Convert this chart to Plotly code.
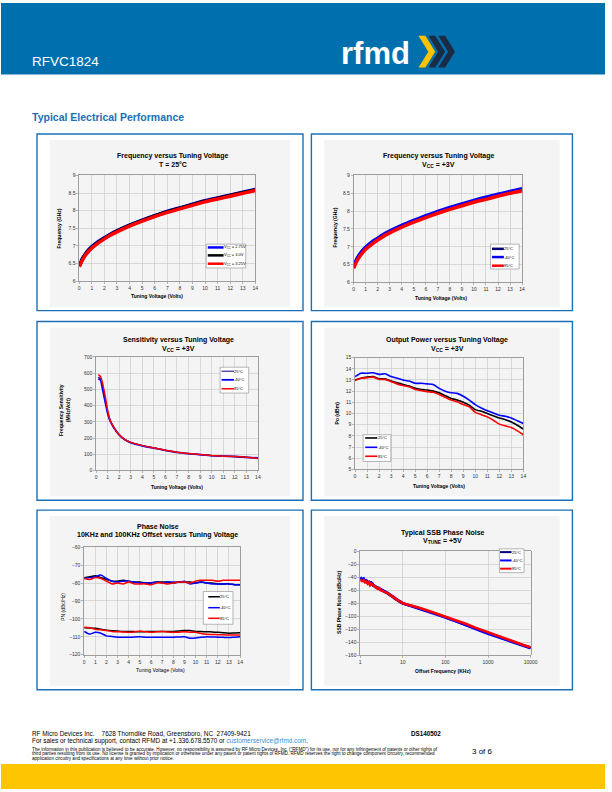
import plotly.graph_objects as go

W, H = 612, 792
FONT = "Liberation Sans"

def X(p): return p / W
def Y(p): return 1 - p / H

# ---------------- DATA ----------------
# Chart 1: Frequency vs tuning voltage, T=25C
c1_x = [0, 0.25, 0.5, 0.75, 1, 1.5, 2, 2.5, 3, 4, 5, 6, 7, 8, 9, 10, 11, 12, 13, 14]
c1_v275 = [6.45, 6.64, 6.78, 6.89, 6.98, 7.12, 7.23, 7.34, 7.43, 7.59, 7.73, 7.86, 7.98, 8.08, 8.18, 8.28, 8.36, 8.44, 8.52, 8.60]
c1_v300 = [6.43, 6.62, 6.76, 6.87, 6.96, 7.10, 7.22, 7.32, 7.42, 7.58, 7.72, 7.85, 7.97, 8.07, 8.17, 8.27, 8.35, 8.43, 8.51, 8.59]
c1_v325 = [6.41, 6.60, 6.74, 6.85, 6.94, 7.08, 7.20, 7.31, 7.40, 7.56, 7.70, 7.83, 7.95, 8.05, 8.15, 8.25, 8.33, 8.41, 8.49, 8.57]
c1_labels = ["V<sub>CC</sub> = 2.75V", "V<sub>CC</sub> = 3.0V", "V<sub>CC</sub> = 3.25V"]

# Chart 2: Frequency vs tuning voltage, Vcc=+3V
c2_x = [0, 0.25, 0.5, 0.75, 1, 1.5, 2, 2.5, 3, 4, 5, 6, 7, 8, 9, 10, 11, 12, 13, 14]
c2_t25 = [6.44, 6.63, 6.77, 6.88, 6.97, 7.11, 7.22, 7.33, 7.42, 7.58, 7.72, 7.85, 7.97, 8.08, 8.18, 8.28, 8.37, 8.45, 8.53, 8.60]
c2_tm40 = [6.46, 6.65, 6.79, 6.90, 6.99, 7.13, 7.24, 7.35, 7.44, 7.60, 7.74, 7.87, 7.99, 8.10, 8.20, 8.30, 8.39, 8.47, 8.55, 8.63]
c2_t85 = [6.40, 6.59, 6.73, 6.84, 6.93, 7.07, 7.19, 7.30, 7.39, 7.55, 7.69, 7.82, 7.94, 8.05, 8.15, 8.25, 8.33, 8.42, 8.50, 8.57]
temp_labels = ["25°C", "-40°C", "85°C"]

# Chart 3: Sensitivity
c3_x = [0.2, 0.3, 0.4, 0.5, 0.6, 0.7, 0.8, 1.0, 1.2, 1.5, 2, 2.5, 3, 4, 5, 6, 7, 8, 9, 10, 11, 12, 13, 14]
c3_t25 = [575, 570, 565, 540, 505, 470, 432, 362, 313, 270, 220, 190, 173, 153, 139, 124, 112, 104, 98, 92, 88, 86, 81, 76]
c3_tm40 = [565, 562, 558, 525, 490, 455, 420, 355, 308, 268, 219, 189, 172, 152, 138, 124, 112, 104, 98, 92, 88, 86, 81, 77]
c3_t85 = [592, 585, 578, 555, 527, 492, 455, 373, 312, 271, 220, 190, 173, 153, 139, 124, 112, 104, 98, 92, 88, 86, 81, 74]

# Chart 4: Output power
c4_x = [0, 0.5, 1, 1.5, 2, 2.5, 3, 3.5, 4, 4.5, 5, 5.5, 6, 6.5, 7, 7.5, 8, 8.5, 9, 9.5, 10, 10.5, 11, 11.5, 12, 12.5, 13, 13.5, 14]
c4_t25 = [13.0, 13.15, 13.25, 13.3, 13.1, 13.1, 12.9, 12.75, 12.6, 12.45, 12.25, 12.15, 12.1, 12.0, 11.85, 11.6, 11.35, 11.2, 11.0, 10.75, 10.35, 10.2, 10.0, 9.8, 9.6, 9.45, 9.25, 8.95, 8.6]
c4_tm40 = [13.3, 13.6, 13.6, 13.65, 13.5, 13.55, 13.3, 13.15, 13.0, 12.9, 12.7, 12.7, 12.65, 12.6, 12.25, 12.0, 11.85, 11.8, 11.55, 11.2, 10.8, 10.5, 10.25, 10.05, 9.85, 9.75, 9.6, 9.35, 9.1]
c4_t85 = [12.95, 13.15, 13.2, 13.25, 13.05, 13.05, 12.85, 12.65, 12.5, 12.4, 12.15, 12.05, 11.95, 11.9, 11.7, 11.45, 11.2, 11.05, 10.8, 10.6, 10.1, 9.9, 9.7, 9.4, 9.05, 8.9, 8.75, 8.45, 8.1]

# Chart 5: Phase noise at 10KHz and 100KHz offset
c5_x = [0, 0.5, 1, 1.5, 2, 2.5, 3, 3.5, 4, 4.5, 5, 5.5, 6, 6.5, 7, 7.5, 8, 8.5, 9, 9.5, 10, 10.5, 11, 11.5, 12, 12.5, 13, 13.5, 14]
c5_10k_t25 = [-77, -76.5, -76, -77, -78, -79, -79, -78.5, -79, -79.5, -79.5, -80, -80, -79.5, -79.5, -79.5, -80, -79.5, -79.5, -79.5, -80, -79.5, -80, -80, -80.5, -80.5, -80.5, -81, -81]
c5_10k_tm40 = [-77.5, -77, -76.5, -75.5, -77.5, -79, -79.5, -79, -79, -79.5, -80, -80, -80, -79.5, -80, -79.5, -79.5, -79.5, -79, -80.5, -80, -79.5, -80, -80.5, -80.5, -80.5, -80.5, -81, -81]
c5_10k_t85 = [-77.5, -78, -77, -77.5, -79, -80.5, -80, -80.5, -79.5, -80.5, -80.5, -80.5, -81, -80, -80, -80.5, -80, -79.5, -79.5, -80, -79, -78.5, -78.5, -78.5, -79, -78.5, -78.5, -78.5, -78.5]
c5_100k_t25 = [-105, -105.1, -105.3, -105.8, -106.3, -106.6, -106.8, -107, -107, -107.1, -107.2, -107.1, -107, -107, -107, -107, -107, -106.8, -106.5, -106.5, -107, -107.1, -107.2, -107.3, -107.5, -107.8, -108, -107.9, -107.8]
c5_100k_tm40 = [-107, -108.5, -107.5, -108, -109.5, -109.8, -110.2, -110.3, -110.3, -110.1, -110, -110.2, -110.3, -110.3, -110.3, -110.2, -110.2, -110.1, -110, -110.8, -110.7, -110.3, -110, -110.1, -110.2, -110.3, -110.4, -110.2, -110]
c5_100k_t85 = [-104.7, -105, -105.8, -106.1, -106.5, -107, -107.2, -107.3, -107.4, -107.3, -106.8, -107.2, -107.4, -107.2, -107, -107.3, -107.5, -107.4, -107.2, -107.4, -107.5, -108.2, -108.6, -108.7, -108.8, -108.9, -109, -109, -109]

# Chart 6: Typical SSB phase noise, Vtune=+5V
c6_f = [1, 1.1, 1.2, 1.3, 1.4, 1.5, 1.6, 1.7, 1.8, 1.9, 2.0, 2.2, 2.4, 2.6, 2.8, 3.0, 3.3, 3.6, 4.0, 4.4, 4.8, 5.2, 5.6, 6.0, 6.5, 7.0, 7.5, 8.0, 9.0, 10,
        12, 15, 20, 30, 50, 70, 100, 150, 200, 300, 500, 700, 1000, 1500, 2000, 3000, 5000, 7000, 10000]
c6_t25 = [-41, -44, -43, -47, -46, -49, -48, -51, -49, -50, -53, -54, -56, -57, -58, -59, -61, -62, -64, -65, -67, -68, -70, -71, -73, -74, -76, -77, -79, -80.5,
          -82, -83.5, -86, -89.5, -94.5, -97.5, -101.5, -105.5, -108.5, -112.5, -118.5, -122, -126, -130, -133, -137, -142, -145, -148.5]
c6_tm40 = [-40, -43, -42, -46, -45, -48, -47, -50, -48, -49, -52, -53, -55, -56, -57, -58, -60, -61, -63, -64, -66, -67, -69, -70, -72, -73, -75, -76, -78, -80.5,
           -82, -84, -86.5, -90, -95, -98, -102, -106, -109, -113, -119, -123, -127, -131, -134, -138, -143, -146, -149]
c6_t85 = [-44, -46, -45, -48, -47, -50, -48, -52, -50, -51, -53, -55, -56, -58, -57, -60, -61, -62, -64, -65, -66, -68, -69, -71, -72, -74, -75, -77, -78, -80,
          -81.5, -83, -85.5, -89, -94, -97, -100.5, -104.5, -107.5, -111.5, -117.5, -121, -125, -129, -132, -136, -141, -144.5, -147.5]
c6_ticks = [1, 10, 100, 1000, 10000]
c6_ticktext = ["1", "10", "100", "1000", "10000"]

# ---------------- FIGURE ----------------
fig = go.Figure()
shapes = []
ann = []

def rect(x0, y0, x1, y1, fill=None, line=None, lw=0, layer="below"):
    shapes.append(dict(type="rect", xref="paper", yref="paper", x0=X(x0), x1=X(x1), y0=Y(y1), y1=Y(y0),
                       fillcolor=fill if fill else "rgba(0,0,0,0)",
                       line=dict(color=line if line else "rgba(0,0,0,0)", width=lw), layer=layer))

def seg(x0, y0, x1, y1, color, lw, layer="above"):
    shapes.append(dict(type="line", xref="paper", yref="paper", x0=X(x0), x1=X(x1), y0=Y(y0), y1=Y(y1),
                       line=dict(color=color, width=lw), layer=layer))

def poly(pts, color, layer="above"):
    d = "M " + " L ".join(f"{X(a):.5f},{Y(b):.5f}" for a, b in pts) + " Z"
    shapes.append(dict(type="path", xref="paper", yref="paper", path=d, fillcolor=color,
                       line=dict(width=0), layer=layer))

def txt(x, y, s, size, color="#000000", xanchor="center", angle=0, family=FONT, yanchor="middle"):
    ann.append(dict(x=X(x), y=Y(y), xref="paper", yref="paper", text=s, showarrow=False,
                    xanchor=xanchor, yanchor=yanchor, textangle=angle, borderpad=0, borderwidth=0,
                    font=dict(size=size, color=color, family=family)))

# Header
rect(0, 0, 612, 72, fill="#006FAE")
txt(31.5, 59, "RFVC1824", 13.5, color="white", xanchor="left")
txt(345, 51, "<b>rfmd</b>", 31, color="white", xanchor="left")
poly([(433, 33), (440, 33), (450, 49), (440, 65), (433, 65), (443, 49)], "#1B2B44")
poly([(443, 33), (450, 33), (460, 49), (450, 65), (443, 65), (453, 49)], "#1B2B44")
poly([(423, 33), (430, 33), (440, 49), (430, 65), (423, 65), (433, 49)], "#FDC300")
txt(31, 115, "<b>Typical Electrical Performance</b>", 10.5, color="#1A70B8", xanchor="left")

# Panels boxes & chart areas
BOX = "#1A70B8"
panels = [(36.5, 132, 306, 310), (314.5, 132, 579, 310),
          (36.5, 321, 306, 501), (314.5, 321, 579, 501),
          (36.5, 511, 306, 692), (314.5, 511, 579, 692)]
for (x0, y0, x1, y1) in panels:
    rect(x0, y0, x1, y1, fill="white", line=BOX, lw=1.4)
    rect(x0 + 13, y0 + 6, x1 - 13, y1 - 4, fill="#F4F4F4")

# Axis domains (pixel boxes of plot areas)
plots = [
    (79.3, 257.7, 173.7, 280.3),
    (357.3, 528.0, 173.7, 281.7),
    (96.3, 260.3, 356.7, 471.0),
    (358.7, 529.3, 357.3, 470.0),
    (84.3, 242.3, 548.3, 656.7),
    (364.0, 536.7, 552.3, 657.3),
]
yranges = [(6, 9, 0.5), (6, 9, 0.5), (0, 700, 100), (5, 15, 1), (-120, -60, 10), (-160, 0, 20)]

layout_axes = {}
for i, ((xa, xb, ya, yb), (r0, r1, dt)) in enumerate(zip(plots, yranges), start=1):
    sx = "" if i == 1 else str(i)
    common = dict(showline=True, mirror=True, linecolor="#888888", linewidth=0.8,
                  showgrid=True, gridcolor="#C4C4C4", gridwidth=0.6, zeroline=False,
                  ticks="outside", ticklen=2, tickwidth=0.6, tickcolor="#888888",
                  tickfont=dict(size=5, color="#333333", family=FONT), fixedrange=True)
    if i == 6:
        xax = dict(domain=[X(xa), X(xb)], type="log", range=[0, 4], tickvals=c6_ticks,
                   ticktext=c6_ticktext, anchor="y" + sx, **common)
    else:
        xax = dict(domain=[X(xa), X(xb)], range=[0, 14], dtick=1, tick0=0, anchor="y" + sx, **common)
    yax = dict(domain=[Y(yb), Y(ya)], range=[r0, r1], dtick=dt, tick0=r0, anchor="x" + sx, **common)
    layout_axes["xaxis" + sx] = xax
    layout_axes["yaxis" + sx] = yax

def line(x, y, color, width, i):
    sx = "" if i == 1 else str(i)
    fig.add_trace(go.Scatter(x=x, y=y, mode="lines", line=dict(color=color, width=width, shape="spline", smoothing=0.6),
                             xaxis="x" + sx, yaxis="y" + sx, showlegend=False, hoverinfo="skip"))

NAVY, BLUE, RED, BLACK = "#000080", "#0000FF", "#FF0000", "#000000"
# chart 1
line(c1_x, c1_v275, BLUE, 3.5, 1)
line(c1_x, c1_v300, BLACK, 3.5, 1)
line(c1_x, c1_v325, RED, 3.5, 1)
# chart 2
line(c2_x, c2_t25, NAVY, 3.5, 2)
line(c2_x, c2_tm40, BLUE, 3.5, 2)
line(c2_x, c2_t85, RED, 3.5, 2)
# chart 3
line(c3_x, c3_t25, NAVY, 1.2, 3)
line(c3_x, c3_tm40, BLUE, 1.8, 3)
line(c3_x, c3_t85, RED, 1.5, 3)
# chart 4
line(c4_x, c4_t25, BLACK, 1.6, 4)
line(c4_x, c4_tm40, BLUE, 1.6, 4)
line(c4_x, c4_t85, RED, 1.6, 4)
# chart 5
for ys, c in [(c5_10k_t25, BLACK), (c5_10k_tm40, BLUE), (c5_10k_t85, RED),
              (c5_100k_t25, BLACK), (c5_100k_tm40, BLUE), (c5_100k_t85, RED)]:
    line(c5_x, ys, c, 1.5, 5)
# chart 6
for ys, c in [(c6_t25, NAVY), (c6_tm40, BLUE), (c6_t85, RED)]:
    fig.add_trace(go.Scatter(x=c6_f, y=ys, mode="lines", line=dict(color=c, width=2.6),
                             xaxis="x6", yaxis="y6", showlegend=False, hoverinfo="skip"))

# Titles
TS = 7
def title2(cx, y1, s1, y2, s2):
    txt(cx, y1, "<b>" + s1 + "</b>", TS)
    txt(cx, y2, "<b>" + s2 + "</b>", TS)

title2(174.2, 154, "Frequency versus Tuning Voltage", 162.7, "T = 25°C")
title2(443, 154.3, "Frequency versus Tuning Voltage", 163.3, "V<sub>CC</sub> = +3V")
title2(180, 339.7, "Sensitivity versus Tuning Voltage", 348.3, "V<sub>CC</sub> = +3V")
title2(452, 339.3, "Output Power versus Tuning Voltage", 348.3, "V<sub>CC</sub> = +3V")
title2(159, 527, "Phase Noise", 535.7, "10KHz and 100KHz Offset versus Tuning Voltage")
title2(447.7, 533.7, "Typical SSB Phase Noise", 541.8, "V<sub>TUNE</sub> = +5V")

# Axis titles
AS = 5
txt(158, 295.7, "<b>Tuning Voltage (Volts)</b>", AS)
txt(446, 297.7, "<b>Tuning Voltage (Volts)</b>", AS)
txt(178, 488, "<b>Tuning Voltage (Volts)</b>", AS)
txt(443.3, 486.7, "<b>Tuning Voltage (Volts)</b>", AS)
txt(161.7, 672.3, "Tuning Voltage (Volts)", AS)
txt(447.5, 672.7, "<b>Offset Frequency (KHz)</b>", AS)
txt(59, 227, "<b>Frequency (GHz)</b>", AS, angle=-90)
txt(338, 226.7, "<b>Frequency (GHz)</b>", AS, angle=-90)
txt(65, 410, "<b>Frequency Sensitivity<br>(MHz/Volt)</b>", AS, angle=-90)
txt(340, 413, "<b>Po (dBm)</b>", AS, angle=-90)
txt(63.3, 608, "PN (dBc/Hz)", AS, angle=-90)
txt(343, 604, "<b>SSB Phase Noise (dBc/Hz)</b>", AS, angle=-90)

# Manual legends
def legend(box, rows, lx0, lx1, labels, colors, widths):
    rect(*box, fill="white", line="#888888", lw=0.6, layer="above")
    for yy, lab, c, w in zip(rows, labels, colors, widths):
        seg(lx0, yy, lx1, yy, c, w)
        txt(lx1 + 0.3, yy, lab, 4, xanchor="left")

legend((208, 243, 248, 267), [246.3, 254.3, 262.7], 209.5, 225.5, c1_labels, [BLUE, BLACK, RED], [2.5, 2.5, 2.5])
legend((496, 243, 525, 268), [247.7, 256, 264.7], 497.5, 509.5, temp_labels, [NAVY, BLUE, RED], [2.5, 2.5, 2.5])
legend((222, 367, 251, 393), [371, 379.7, 388.7], 223.5, 236, temp_labels, [NAVY, BLUE, RED], [1, 1.8, 1.5])
legend((367, 435, 395, 462), [438.3, 447.7, 456.7], 369, 381.3, temp_labels, [BLACK, BLUE, RED], [1.6, 1.6, 1.6])
legend((205, 593, 235, 626), [598.3, 609.3, 620], 210, 221.7, temp_labels, [BLACK, BLUE, RED], [1.5, 1.5, 1.5])
legend((505, 550, 530, 574), [553.3, 561.7, 570], 505.7, 517.3, temp_labels, [NAVY, BLUE, RED], [2, 2, 2])

# Footer
txt(31.7, 735.7, "RF Micro Devices Inc.&nbsp;&nbsp;&nbsp;&nbsp;7628 Thorndike Road, Greensboro, NC&nbsp;&nbsp;27409-9421", 6.4, xanchor="left")
txt(31.7, 743.3, "For sales or technical support, contact RFMD at +1.336.678.5570 or <span style='color:#3A8FD0'>customerservice@rfmd.com</span>.", 6.4, xanchor="left")
txt(446, 735.7, "<b>DS140502</b>", 6.3, xanchor="right")
disc = ["The information in this publication is believed to be accurate. However, no responsibility is assumed by RF Micro Devices, Inc. (\"RFMD\") for its use, nor for any infringement of patents or other rights of",
        "third parties resulting from its use. No license is granted by implication or otherwise under any patent or patent rights of RFMD. RFMD reserves the right to change component circuitry, recommended",
        "application circuitry and specifications at any time without prior notice."]
for k, s in enumerate(disc):
    txt(31.7, 752 + 4.4 * k, s, 4.6, xanchor="left")
txt(499, 754, "3 of 6", 8, xanchor="right")
rect(0, 766.7, 612, 792, fill="#FDC600")

fig.update_layout(width=W, height=H, margin=dict(l=0, r=0, t=0, b=0),
                  paper_bgcolor="white", plot_bgcolor="white",
                  shapes=shapes, annotations=ann, showlegend=False, **layout_axes)

fig.write_html("out.html", config={"displayModeBar": False, "staticPlot": True},
               post_script="document.body.style.margin='0';document.body.style.overflow='hidden';")
